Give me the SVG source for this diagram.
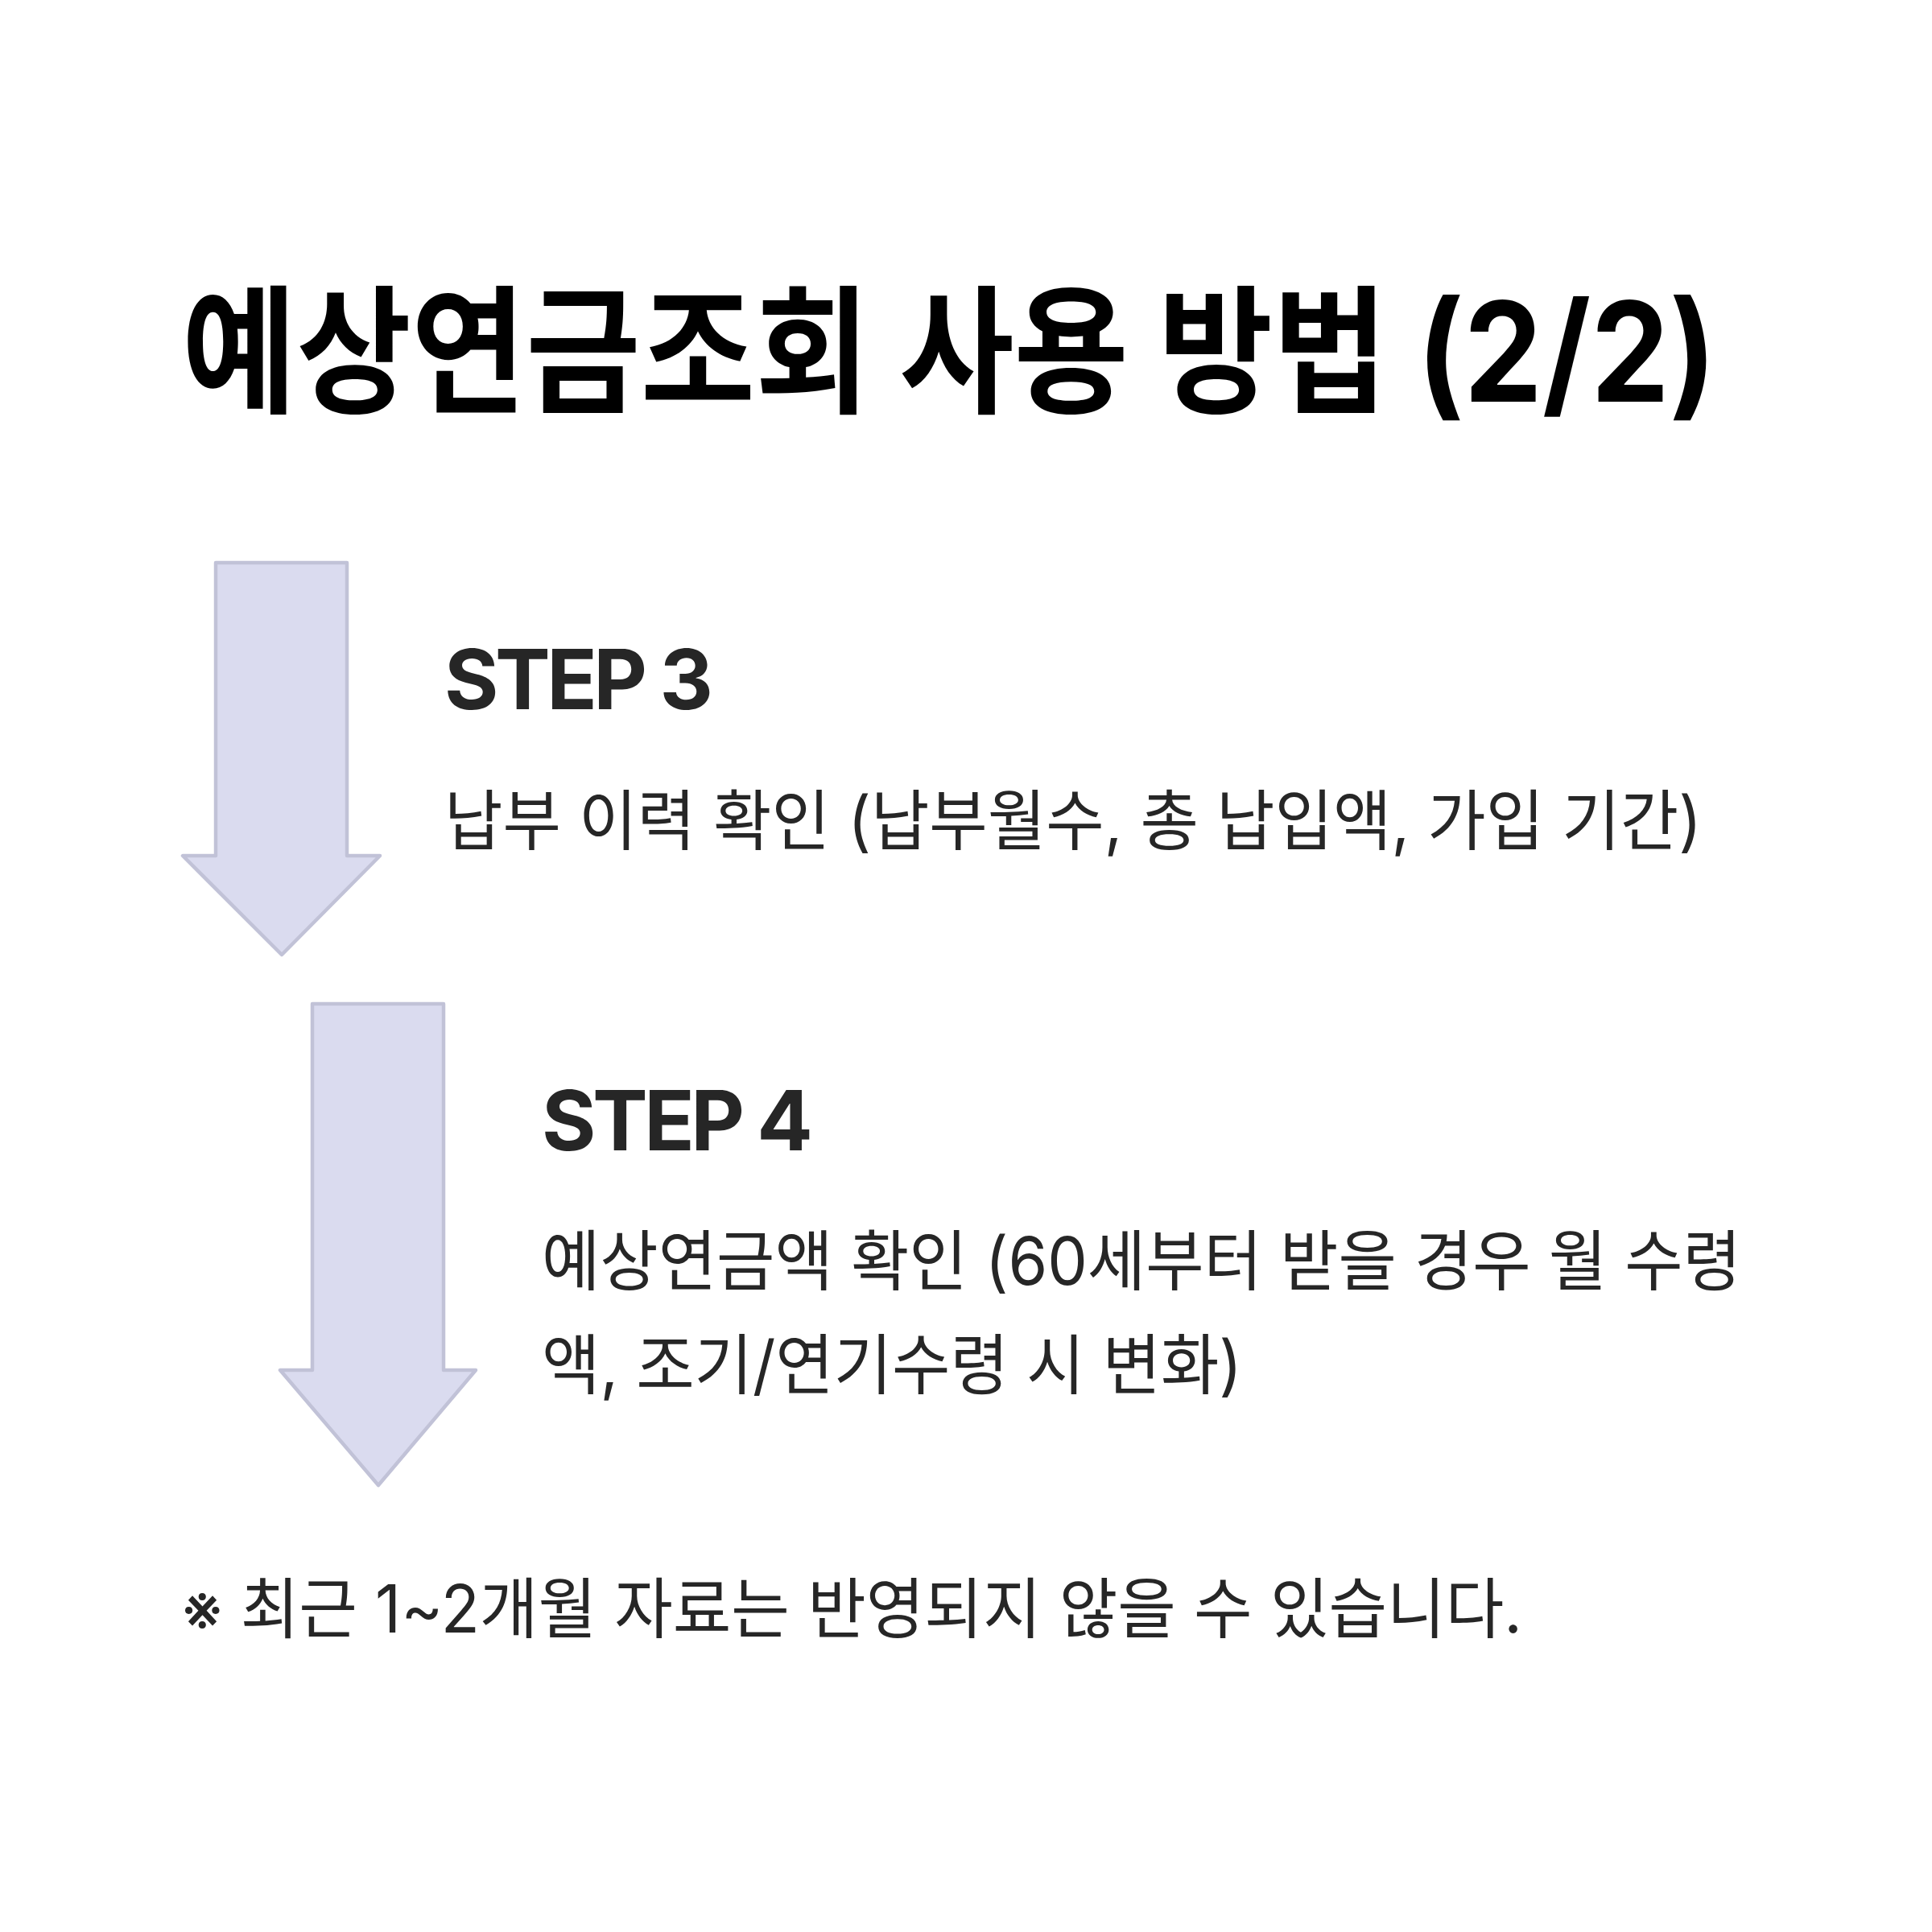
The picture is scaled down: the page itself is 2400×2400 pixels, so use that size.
<svg xmlns="http://www.w3.org/2000/svg" width="2400" height="2400" viewBox="0 0 2400 2400">
<style>
.t{font-family:Inter,"Noto Sans CJK KR",sans-serif;}
.title{font-size:172px;font-weight:700;fill:#000;}
.step{font-size:103px;font-weight:700;fill:#262626;}
.body{font-size:82px;font-weight:400;fill:#262626;}
.arrow{fill:#DADBEF;stroke:#C1C2D7;stroke-width:4.5;stroke-linejoin:round;}
</style>
<rect width="2400" height="2400" fill="#fff"/>
<g id="connectors">
<path class="arrow" d="M268,699 H431 V1063 H472 L350,1186 L227,1063 H268 Z"/>
<path class="arrow" d="M388,1247 H551 V1702 H591 L470,1845 L348,1702 H388 Z"/>
</g>
<g id="title">
<text class="t title" x="226" y="499" textLength="1906" lengthAdjust="spacingAndGlyphs">예상연금조회 사용 방법 (2/2)</text>
</g>
<g id="step3">
<text class="t step" x="552" y="881" textLength="334" lengthAdjust="spacing">STEP 3</text>
<text class="t body" x="552" y="1049" textLength="1562" lengthAdjust="spacingAndGlyphs">납부 이력 확인 (납부월수, 총 납입액, 가입 기간)</text>
</g>
<g id="step4">
<text class="t step" x="673" y="1429" textLength="337" lengthAdjust="spacing">STEP 4</text>
<text class="t body" x="673" y="1596" textLength="1490" lengthAdjust="spacingAndGlyphs">예상연금액 확인 (60세부터 받을 경우 월 수령</text>
<text class="t body" x="673" y="1725" textLength="870" lengthAdjust="spacingAndGlyphs">액, 조기/연기수령 시 변화)</text>
</g>
<g id="footer">
<text class="t body" x="226" y="2028" textLength="1665" lengthAdjust="spacingAndGlyphs">※ 최근 1~2개월 자료는 반영되지 않을 수 있습니다.</text>
</g>
</svg>
